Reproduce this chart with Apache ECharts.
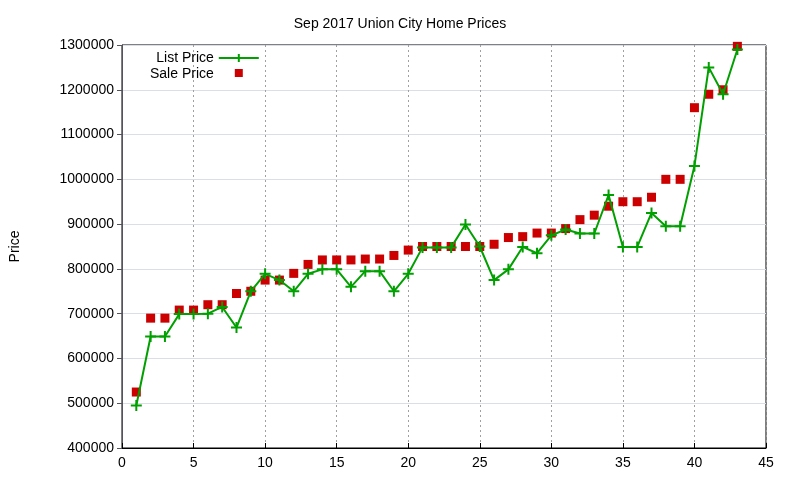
<!DOCTYPE html>
<html><head><meta charset="utf-8"><script src="https://cdn.jsdelivr.net/npm/echarts@6/dist/echarts.min.js"></script>
<style>body{margin:0}#c{width:800px;height:480px}</style></head><body><div id="c"></div>
<script>
const idx = Array.from({length:43},(_,i)=>i+1);
const listPrice=[495000,649000,649000,699000,699000,700000,715000,669000,750000,789000,775000,750000,789000,799000,799000,760000,795000,795000,750000,789000,848000,848000,848000,899000,850000,775000,799000,849000,835000,875000,888000,879000,879000,965000,849000,849000,925000,895000,895000,1030000,1250000,1190000,1290000];
const salePrice=[525000,690000,690000,708000,708000,720000,720000,745000,750000,775000,775000,790000,810000,820000,820000,820000,822000,822000,830000,842000,850000,850000,850000,850000,850000,855000,870000,872000,880000,880000,890000,910000,920000,940000,950000,950000,960000,1000000,1000000,1160000,1190000,1200000,1297000];
const font='Liberation Sans, Arial, sans-serif';
const plus='path://M0,5H10M5,0V10';
const ax={axisLine:{lineStyle:{color:'#000',width:1}},axisTick:{inside:true,lineStyle:{color:'#000'}},axisLabel:{color:'#000',fontSize:14,fontFamily:font},splitLine:{show:true,lineStyle:{color:'#a0a0a0',type:[2,3]}}};
const chart=echarts.init(document.getElementById('c'));
chart.setOption({
 animation:false,
 title:{text:'Sep 2017 Union City Home Prices',left:'center',top:12,textStyle:{fontSize:14,fontWeight:'normal',color:'#000',fontFamily:font}},
 grid:{left:120,right:34,top:45,bottom:32,show:true,borderColor:'#000',borderWidth:1},
 legend:{orient:'vertical',left:145,top:46,align:'right',itemGap:2,itemWidth:40,itemHeight:10,textStyle:{fontSize:14,color:'#000',fontFamily:font},
  data:[{name:'List Price'},{name:'Sale Price',icon:'path://M0,0L0.01,0M16,0H24V8H16ZM40,10L40.01,10'}]},
 xAxis:Object.assign({type:'value',min:0,max:45,interval:5},ax),
 yAxis:Object.assign({type:'value',min:400000,max:1300000,interval:100000,name:'Price',nameLocation:'middle',nameGap:100,nameTextStyle:{fontSize:14,color:'#000',fontFamily:font},axisLabel:{color:'#000',fontSize:14,fontFamily:font,formatter:v=>String(v)}}),
 series:[
  {name:'List Price',type:'line',data:idx.map((x,i)=>[x,listPrice[i]]),symbol:plus,symbolSize:11,showAllSymbol:true,itemStyle:{color:'#00a000',borderColor:'#00a000',borderWidth:2},lineStyle:{color:'#00a000',width:2}},
  {name:'Sale Price',type:'scatter',data:idx.map((x,i)=>[x,salePrice[i]]),symbol:'rect',symbolSize:9,itemStyle:{color:'#cc0000',opacity:1}}
 ]
});
</script></body></html>
